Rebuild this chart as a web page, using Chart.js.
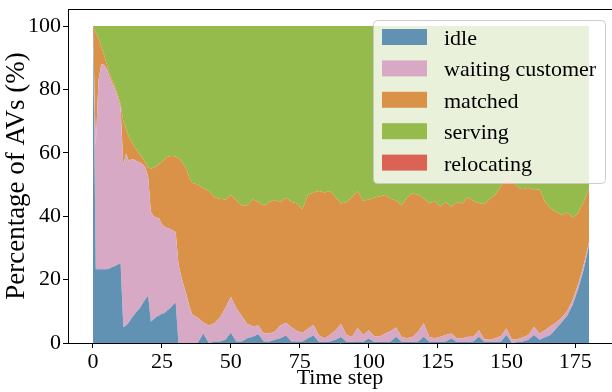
<!DOCTYPE html>
<html>
<head>
<meta charset="utf-8">
<script src="https://cdn.jsdelivr.net/npm/chart.js@4.4.1/dist/chart.umd.min.js"></script>
<style>
  html, body { margin: 0; padding: 0; background: #fff; overflow: hidden; }
</style>
</head>
<body>
<canvas id="areaChart" width="612" height="392"></canvas>
<script>
// time steps (every step up to 36, then every second step)
const steps = [0, 1, 2, 3, 4, 5, 6, 7, 8, 9, 10, 11, 12, 13, 14, 15, 16, 17, 18, 19, 20,
  21, 22, 23, 24, 25, 26, 27, 28, 29, 30, 31, 32, 33, 34, 35, 36,
  38, 40, 42, 44, 46, 48, 50, 52, 54, 56, 58, 60, 62, 64, 66, 68, 70, 72, 74, 76, 78, 80,
  82, 84, 86, 88, 90, 92, 94, 96, 98, 100, 102, 104, 106, 108, 110, 112, 114, 116, 118, 120,
  122, 124, 126, 128, 130, 132, 134, 136, 138, 140, 142, 144, 146, 148, 150, 152, 154, 156,
  158, 160, 162, 164, 166, 168, 170, 172, 174, 176, 178, 180];

// percentages
const idle = [100, 23.3, 23.3, 23.3, 23.3, 23.3, 23.5, 24, 24.3, 24.8, 25.2, 5, 5.5, 6.5, 7.8, 9, 10, 11, 12.5, 13.8, 15,
  6.7, 7.5, 8.3, 8.7, 9.2, 9.5, 10.3, 11, 12, 12.8, 0, 0, 0, 0, 0, 0,
  0, 3, 0, 0.5, 0.5, 1, 3.2, 0.5, 0.5, 1.5, 2, 2.8, 0.5, 0.5, 1, 1.5, 2.4, 0.5, 0.5, 0.5, 1.5, 2.4,
  0.3, 0.3, 0.5, 1, 1.9, 0.3, 0.3, 0.5, 0.3, 1.4, 0.3, 0.3, 0.3, 0.5, 2, 0.3, 0.3, 0.3, 0.5, 2,
  0.3, 0.3, 0.3, 0.5, 1.4, 0.3, 0.3, 0.3, 0.5, 2, 0.3, 0.3, 0.3, 0.5, 2.5, 0, 0.3, 0.5,
  1, 2.5, 1, 1.8, 2.5, 4.5, 6.5, 8.5, 12, 17, 23, 31];

const waitingCustomer = [0, 38.7, 59.7, 64.7, 64.5, 63.2, 60.5, 58, 55.7, 52.7, 49.3, 51, 54.3, 51, 50.2, 48.8, 47.3, 46, 43.8, 41.7, 37.5,
  34.7, 32.5, 31.3, 30.6, 28.3, 27.2, 26, 25, 23.5, 22.2, 25, 21, 18, 15, 11.5, 9,
  8, 3.5, 5.5, 5.7, 7.5, 10, 11.4, 10.5, 8, 4.5, 3.3, 2.7, 2.5, 2.5, 2.6, 4, 4, 4.5, 3.3, 2.7, 3, 3.3,
  2.1, 1.2, 2, 3, 4.1, 2.2, 1.7, 4.3, 2.2, 2.6, 1.9, 1.7, 2.7, 3.3, 2.9, 1.6, 1.2, 1.7, 3.1, 4.2,
  1.6, 1.2, 1.7, 2, 1.6, 1.2, 1.2, 1.7, 1.5, 2, 0.9, 0.7, 1.2, 1.7, 2.1, 1, 0.9, 1.3,
  1.5, 2.6, 2, 2.2, 2.8, 2, 1.5, 1.5, 1.5, 1.5, 1.5, 1];

const matched = [0, 36, 13, 5.5, 3.2, 1.5, 1, 1, 0.8, 0.8, 1, 14, 7.7, 7.5, 5.5, 4.2, 3.5, 2.5, 2, 1.5, 3,
  13.6, 15.3, 16.2, 17.2, 19.7, 21.3, 22.4, 23, 23.5, 23.8, 33.3, 36.5, 38.2, 39.6, 40.5, 41.5,
  42, 42.3, 42.5, 39.8, 37.5, 34.3, 32.1, 34, 35, 37.5, 40, 39, 40.3, 41.5, 41.5, 39.1, 39.4, 39.6, 40.2, 39, 42.2, 41.8,
  45.6, 46, 45.5, 42, 38, 42, 44, 43.2, 42.3, 41.3, 43.6, 44.2, 43.7, 41.7, 40.1, 41.6, 44.5, 45.2, 43.2, 39.4,
  42.1, 43.3, 41, 42, 40, 43, 42.5, 44, 42.8, 40.2, 42.6, 44.6, 45.3, 47.3, 47.9, 50, 48.1, 46.7,
  46.5, 43.2, 45.5, 40.5, 37.2, 34.9, 32.4, 31.2, 26.1, 22.5, 20, 17];

const serving = [0, 2, 4, 6.5, 9, 12, 15, 17, 19.2, 21.7, 24.5, 30, 32.5, 35, 36.5, 38, 39.2, 40.5, 41.7, 43, 44.5,
  45, 44.7, 44.2, 43.5, 42.8, 42, 41.3, 41, 41, 41.2, 41.7, 42.5, 43.8, 45.4, 48, 49.5,
  50, 51.2, 52, 54, 54.5, 54.7, 53.3, 55, 56.5, 56.5, 54.7, 55.5, 56.7, 55.5, 54.9, 55.4, 54.2, 55.4, 56, 57.8, 53.3, 52.5,
  52, 52.5, 52, 54, 56, 55.5, 54, 52, 55.2, 54.7, 54.2, 53.8, 53.3, 54.5, 55, 56.5, 54, 52.8, 53.2, 54.4,
  56, 55.2, 57, 55.5, 57, 55.5, 56, 54, 55.2, 55.8, 56.2, 54.4, 53.2, 50.5, 47.5, 49, 50.7, 51.5,
  51, 51.7, 51.5, 55.5, 57.5, 58.6, 59.6, 58.8, 60.4, 59, 55.5, 51];

const relocating = [0, 0, 0, 0, 0, 0, 0, 0, 0, 0, 0, 0, 0, 0, 0, 0, 0, 0, 0, 0, 0,
  0, 0, 0, 0, 0, 0, 0, 0, 0, 0, 0, 0, 0, 0, 0, 0,
  0, 0, 0, 0, 0, 0, 0, 0, 0, 0, 0, 0, 0, 0, 0, 0, 0, 0, 0, 0, 0, 0,
  0, 0, 0, 0, 0, 0, 0, 0, 0, 0, 0, 0, 0, 0, 0, 0, 0, 0, 0, 0,
  0, 0, 0, 0, 0, 0, 0, 0, 0, 0, 0, 0, 0, 0, 0, 0, 0, 0,
  0, 0, 0, 0, 0, 0, 0, 0, 0, 0, 0, 0];

const seriesNames = ['idle', 'waiting customer', 'matched', 'serving', 'relocating'];
const xTicks = [0, 25, 50, 75, 100, 125, 150, 175];
const yTicks = [0, 20, 40, 60, 80, 100];

const colors = ['#6191b3', '#d7a9c4', '#d99247', '#95bb4d', '#da6356'];
const serif = "'Liberation Serif', 'Times New Roman', serif";

Chart.defaults.font.family = serif;
Chart.defaults.color = '#000';

const seriesValues = [idle, waitingCustomer, matched, serving, relocating];

const datasets = seriesValues.map((vals, i) => ({
  label: seriesNames[i],
  data: steps.map((s, k) => ({ x: s, y: vals[k] })),
  backgroundColor: colors[i],
  borderColor: colors[i],
  borderWidth: 0,
  pointRadius: 0,
  tension: 0,
  fill: i === 0 ? 'origin' : '-1'
}));

// top spine of the axes box
const topSpine = {
  id: 'topSpine',
  afterDraw(chart) {
    const { ctx, chartArea } = chart;
    ctx.save();
    ctx.strokeStyle = '#000';
    ctx.lineWidth = 1;
    ctx.beginPath();
    ctx.moveTo(chartArea.left, chartArea.top + 0.5);
    ctx.lineTo(chartArea.right, chartArea.top + 0.5);
    ctx.stroke();
    ctx.restore();
  }
};

// matplotlib-like legend box in the upper right
const legendBox = {
  id: 'legendBox',
  afterDraw(chart) {
    const ctx = chart.ctx;
    ctx.save();
    ctx.beginPath();
    ctx.roundRect(373.5, 20.5, 232, 163, 4);
    ctx.fillStyle = 'rgba(255,255,255,0.8)';
    ctx.fill();
    ctx.strokeStyle = 'rgba(200,200,200,0.9)';
    ctx.lineWidth = 1;
    ctx.stroke();
    ctx.font = '22px ' + serif;
    ctx.textBaseline = 'alphabetic';
    chart.data.datasets.forEach((ds, i) => {
      const cy = 37 + i * 31.4;
      ctx.fillStyle = ds.backgroundColor;
      ctx.fillRect(382, cy - 8, 45, 16);
      ctx.fillStyle = '#000';
      ctx.fillText(ds.label, 444, cy + 8);
    });
    ctx.restore();
  }
};

const ctx = document.getElementById('areaChart').getContext('2d');
const areaChart = new Chart(ctx, {
  type: 'line',
  data: { datasets: datasets },
  options: {
    responsive: false,
    animation: false,
    layout: { padding: { top: 9, right: 0, bottom: 0, left: 0 } },
    plugins: {
      legend: { display: false },
      tooltip: { enabled: false }
    },
    scales: {
      x: {
        type: 'linear',
        min: -9.07,
        max: 188.3,
        afterBuildTicks: (s) => { s.ticks = xTicks.map(v => ({ value: v })); },
        afterFit: (s) => { s.height = 49; s.paddingLeft = 0; s.paddingRight = 0; },
        grid: { display: true, drawOnChartArea: false, drawTicks: true, tickLength: 5, color: '#000' },
        border: { display: true, color: '#000', width: 1 },
        ticks: { font: { size: 22 }, color: '#000', padding: 1, maxRotation: 0, autoSkip: false },
        title: { display: true, text: 'Time step', font: { size: 22 }, color: '#000', padding: { top: 0, bottom: 1 } }
      },
      y: {
        stacked: true,
        min: 0,
        max: 105.4,
        afterBuildTicks: (s) => { s.ticks = yTicks.map(v => ({ value: v })); },
        afterFit: (s) => { s.width = 68; s.paddingTop = 0; s.paddingBottom = 0; },
        grid: { display: true, drawOnChartArea: false, drawTicks: true, tickLength: 5, color: '#000' },
        border: { display: true, color: '#000', width: 1 },
        ticks: { font: { size: 22 }, color: '#000', padding: 2 },
        title: { display: true, text: 'Percentage of AVs (%)', font: { size: 27 }, color: '#000', padding: { top: 1, bottom: 0 } }
      }
    }
  },
  plugins: [topSpine, legendBox]
});
</script>
</body>
</html>
